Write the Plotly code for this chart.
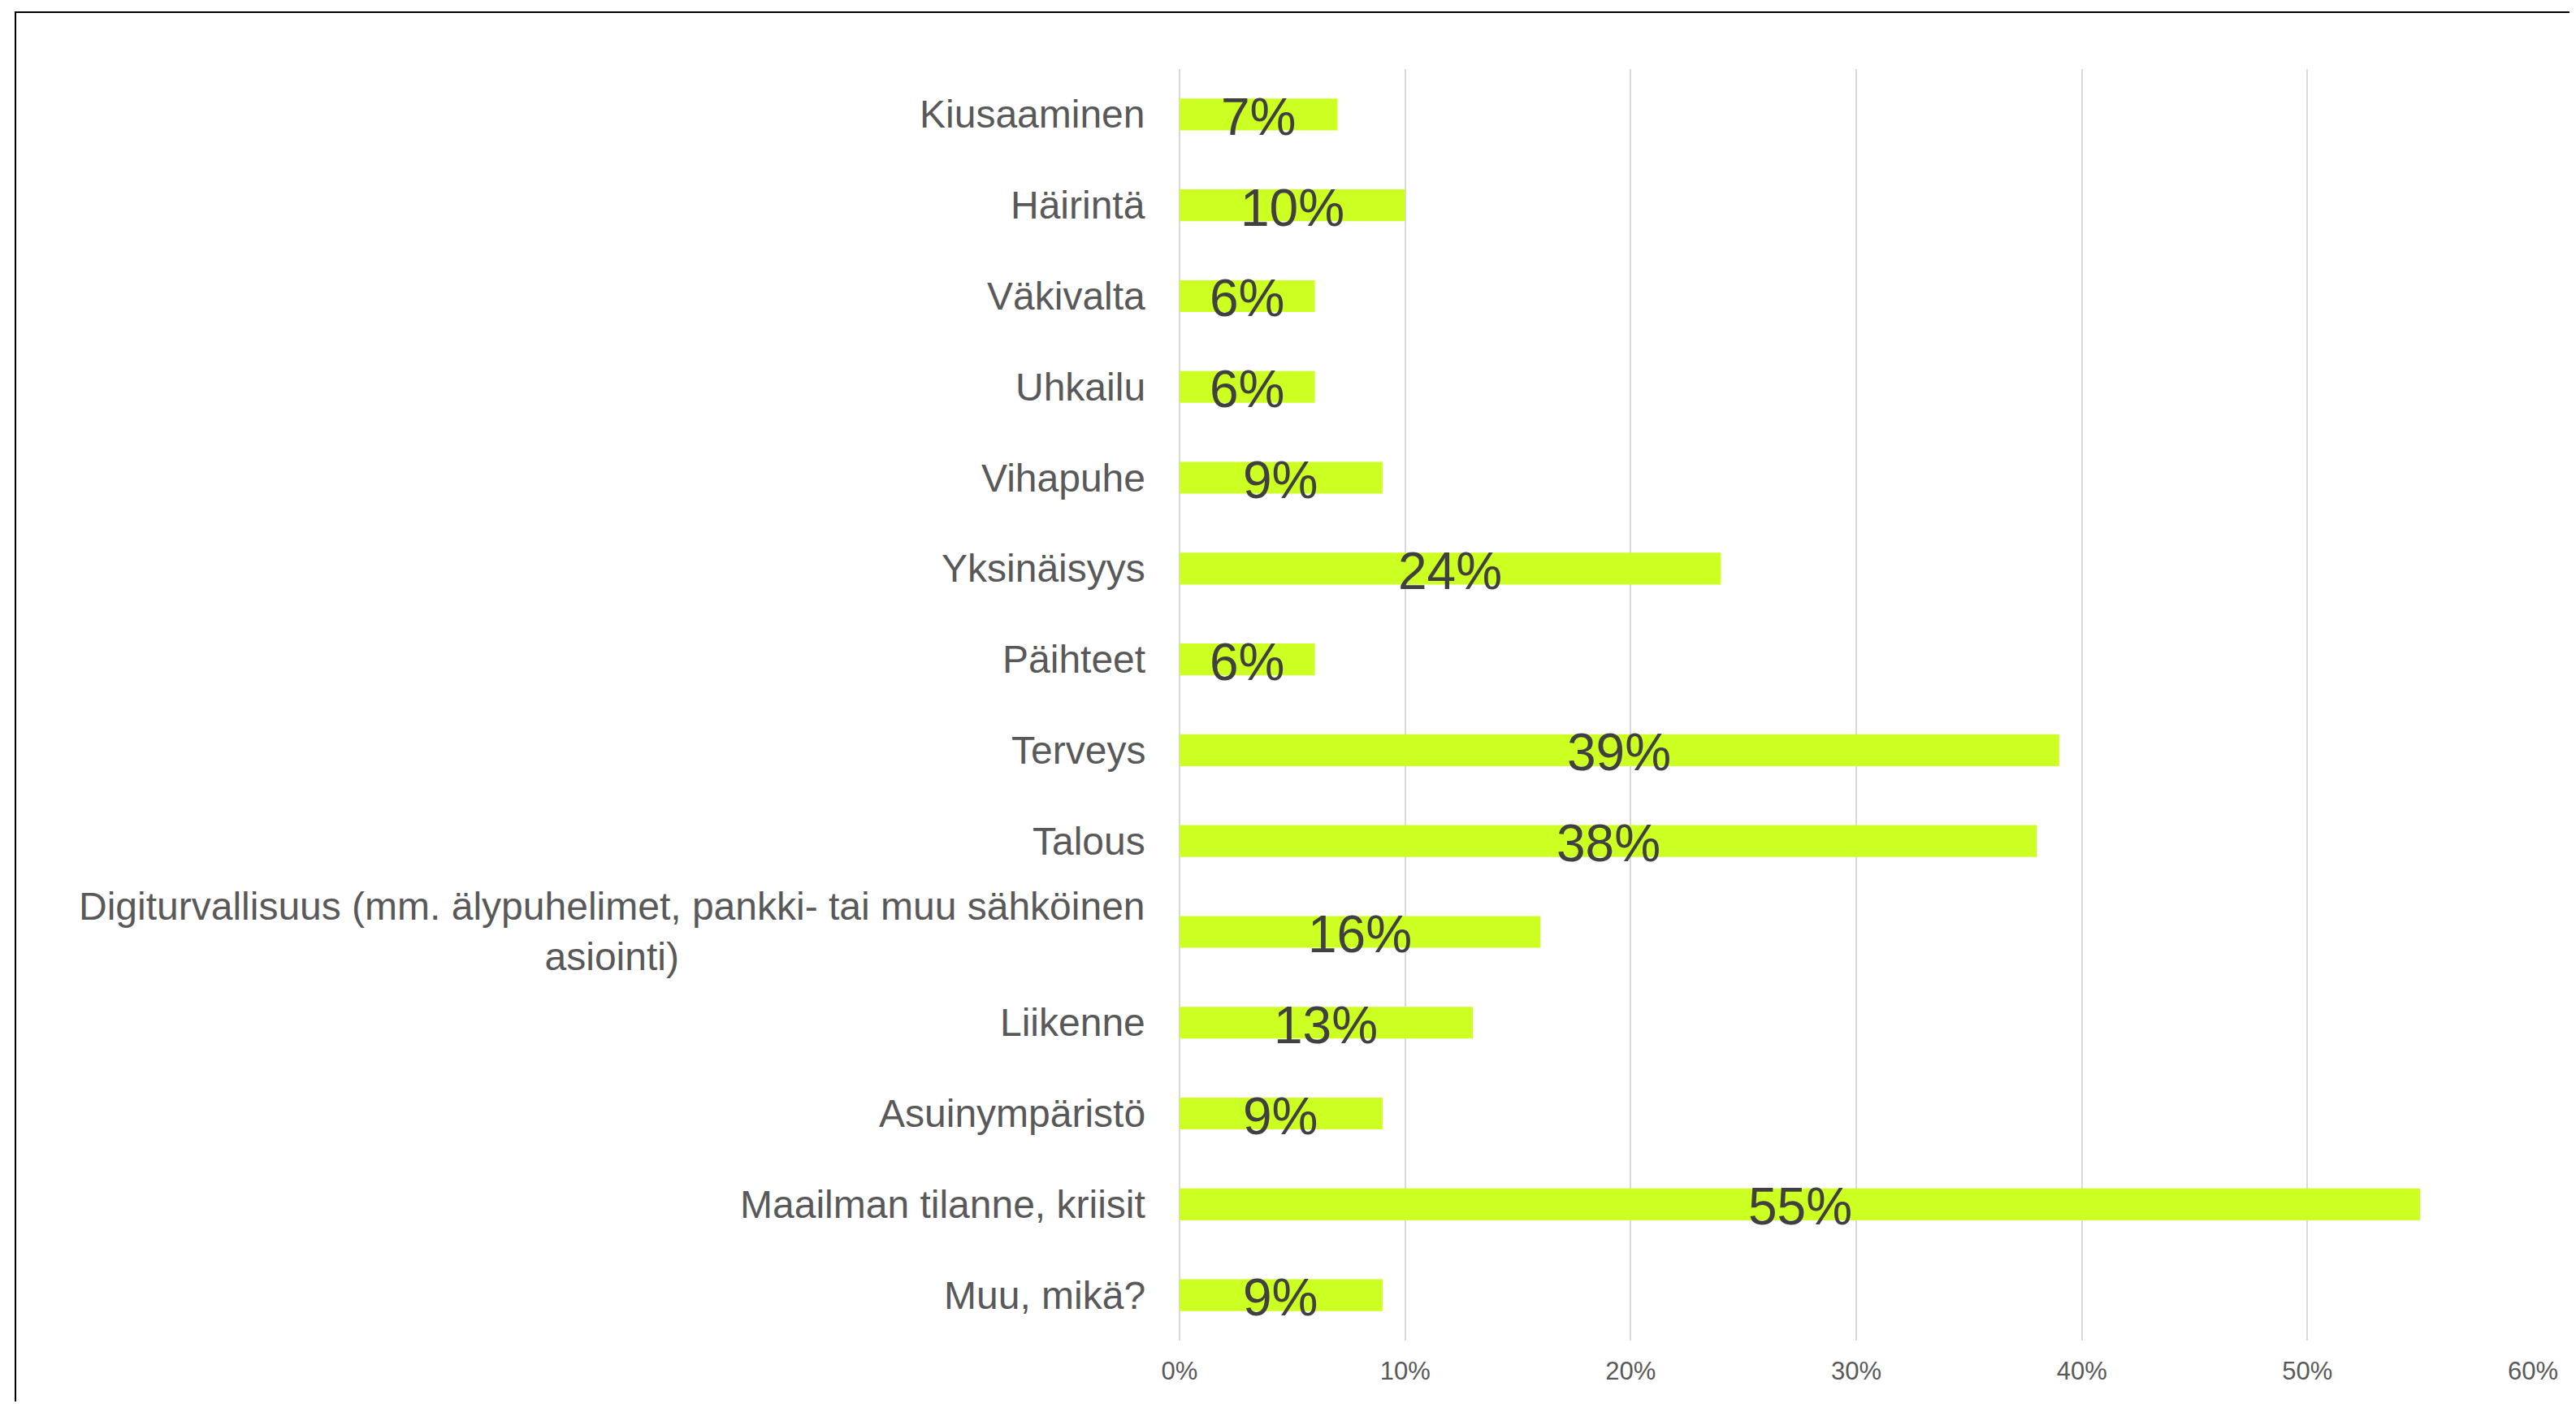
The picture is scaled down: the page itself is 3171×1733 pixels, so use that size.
import plotly.graph_objects as go

categories = [
    "Kiusaaminen",
    "Häirintä",
    "Väkivalta",
    "Uhkailu",
    "Vihapuhe",
    "Yksinäisyys",
    "Päihteet",
    "Terveys",
    "Talous",
    "Digiturvallisuus (mm. älypuhelimet, pankki- tai muu sähköinen<br>asiointi)",
    "Liikenne",
    "Asuinympäristö",
    "Maailman tilanne, kriisit",
    "Muu, mikä?",
]
values = [0.07, 0.10, 0.06, 0.06, 0.09, 0.24, 0.06, 0.39, 0.38, 0.16, 0.13, 0.09, 0.55, 0.09]
tick_vals = [0, 0.1, 0.2, 0.3, 0.4, 0.5, 0.6]
tick_text = ["0%", "10%", "20%", "30%", "40%", "50%", "60%"]

FONT = "Liberation Sans, Arial, sans-serif"
# the page body has an 8px margin, so the figure is sized/offset to compensate
W, H = 3163, 1717
L, R, T, B = 1444, 53, 77, 75

fig = go.Figure()
fig.add_trace(go.Bar(
    x=values, y=categories, orientation="h",
    marker=dict(color="#CCFF22", line=dict(width=0)),
    hoverinfo="skip", showlegend=False,
))

for c, v in zip(categories, values):
    fig.add_annotation(
        x=0, y=c, xref="x", yref="y", text=c, showarrow=False,
        xanchor="right", yanchor="middle", xshift=-40, align="center",
        font=dict(family=FONT, size=48, color="#595959"),
    )
    fig.add_annotation(
        x=v / 2, y=c, xref="x", yref="y", text=f"{round(v*100)}%", showarrow=False,
        xanchor="center", yanchor="middle", yshift=-3,
        font=dict(family=FONT, size=64, color="#404040"),
    )

# outer frame (chart border)
pw = W - L - R
ph = H - T - B
fig.add_shape(
    type="rect", xref="paper", yref="paper",
    x0=(11 - L) / pw, x1=(W + 20 - L) / pw,
    y0=-(B + 30) / ph, y1=1 + (T - 7) / ph,
    line=dict(color="#000000", width=2), fillcolor="rgba(0,0,0,0)", layer="below",
)

fig.update_layout(
    width=W, height=H,
    margin=dict(l=L, r=R, t=T, b=B),
    paper_bgcolor="white", plot_bgcolor="white",
    bargap=0.65,
    xaxis=dict(
        range=[0, 0.6], tickvals=tick_vals, ticktext=tick_text,
        showgrid=True, gridcolor="#D9D9D9", gridwidth=2,
        zeroline=True, zerolinecolor="#D9D9D9", zerolinewidth=2,
        showline=False, ticks="", ticklabelstandoff=16,
        tickfont=dict(family=FONT, size=31, color="#595959"),
        fixedrange=True,
    ),
    yaxis=dict(
        categoryorder="array", categoryarray=categories,
        range=[len(categories) - 0.5, -0.5],
        showticklabels=False, showgrid=False,
        zeroline=False, showline=False, ticks="",
    ),
    font=dict(family=FONT),
)

fig.write_html("out.html")
